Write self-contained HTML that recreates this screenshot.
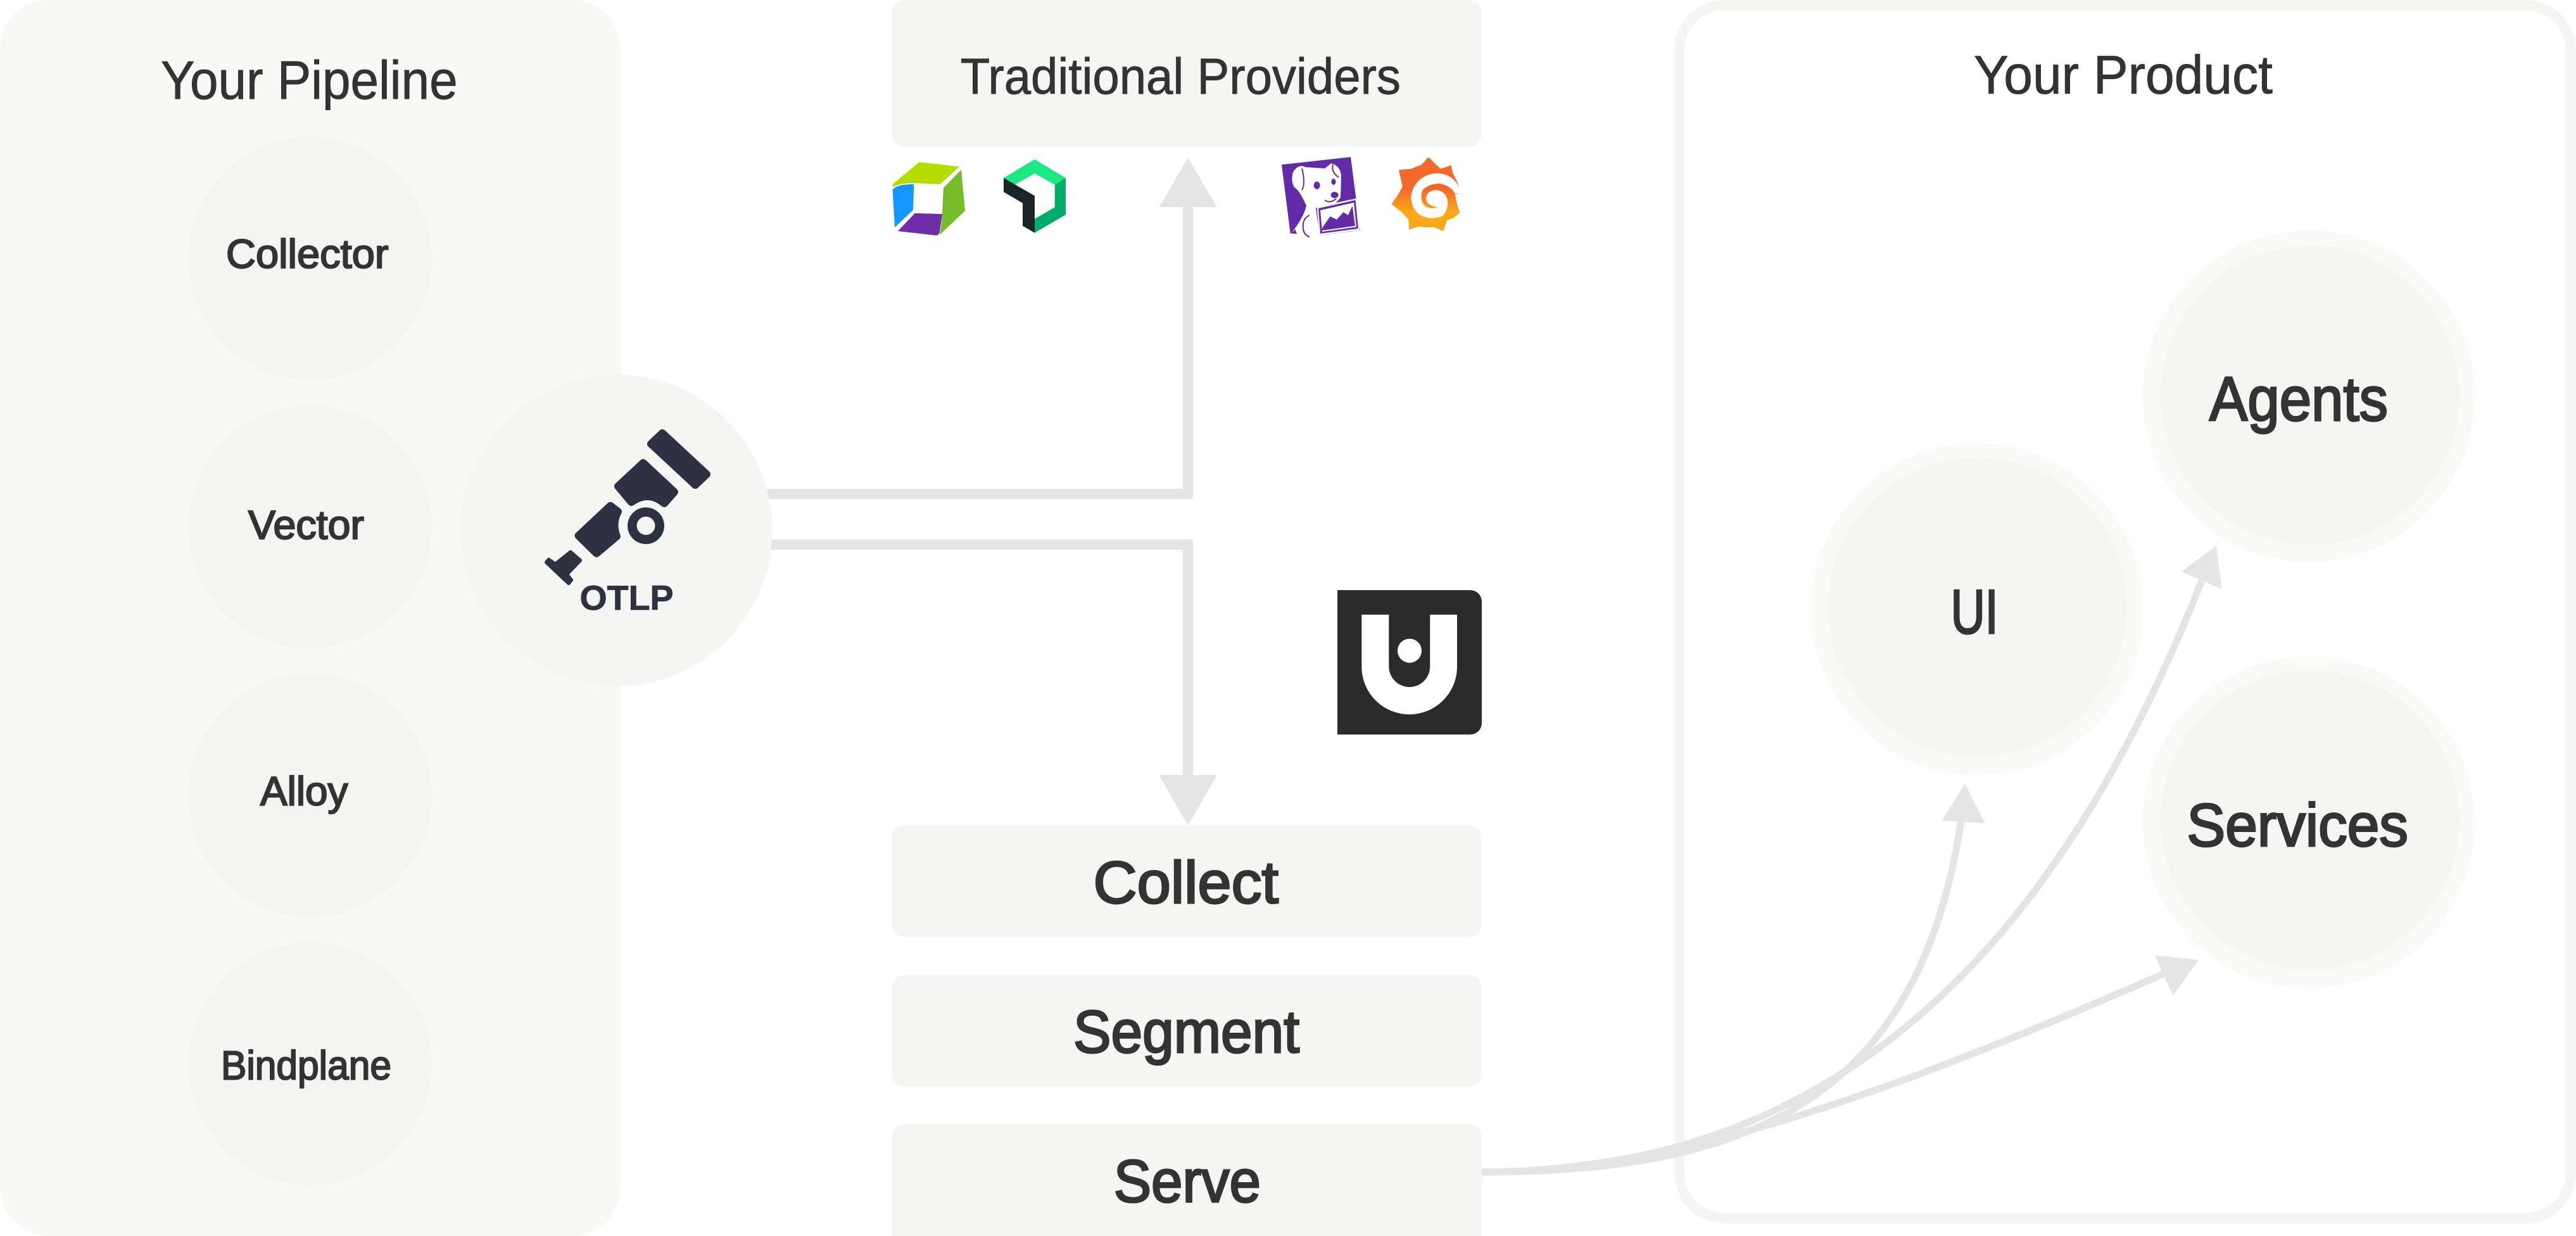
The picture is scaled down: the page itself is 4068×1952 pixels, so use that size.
<!DOCTYPE html>
<html><head><meta charset="utf-8"><title>Pipeline diagram</title>
<style>
html,body{margin:0;padding:0;background:#fff}
svg{display:block}
text{font-family:"Liberation Sans",sans-serif;fill:#333}
.h{stroke:#333;stroke-width:.9px}
.m{stroke:#333;stroke-width:2.2px}
.n{stroke:#333;stroke-width:3px}
</style></head><body>
<svg xmlns="http://www.w3.org/2000/svg" width="4068" height="1952" viewBox="0 0 4068 1952">
<defs>
<linearGradient id="gf" x1="0" y1="0" x2="0" y2="1">
<stop offset="0" stop-color="#f4692a"/><stop offset=".42" stop-color="#f4692a"/><stop offset=".74" stop-color="#f9a818"/><stop offset="1" stop-color="#f9a818"/>
</linearGradient>
</defs>
<rect width="4068" height="1952" fill="#fff"/>

<!-- Left panel -->
<rect x="0" y="0" width="980" height="1952" rx="78" fill="#f8f8f6"/>
<text class="h" x="254" y="156" font-size="85" textLength="468.6" lengthAdjust="spacingAndGlyphs">Your Pipeline</text>
<g fill="#f4f4f2">
<circle cx="489.5" cy="408" r="192"/>
<circle cx="489.5" cy="832" r="192"/>
<circle cx="489.5" cy="1256" r="192"/>
<circle cx="489.5" cy="1680" r="192"/>
</g>
<text class="m" x="357" y="423" font-size="64" textLength="256.5" lengthAdjust="spacingAndGlyphs">Collector</text>
<text class="m" x="392" y="851" font-size="64" textLength="183" lengthAdjust="spacingAndGlyphs">Vector</text>
<text class="m" x="411" y="1271.4" font-size="64" textLength="138.5" lengthAdjust="spacingAndGlyphs">Alloy</text>
<text class="m" x="349" y="1704.3" font-size="64" textLength="269" lengthAdjust="spacingAndGlyphs">Bindplane</text>

<!-- Straight connectors -->
<g fill="none" stroke="#e4e4e4" stroke-width="16">
<path d="M1150 780H1876V320"/>
<path d="M1150 860H1876V1230"/>
</g>
<g fill="#e5e5e5">
<polygon points="1876,248.7 1830.5,327 1921.7,327"/>
<polygon points="1876,1303.5 1830,1224 1922,1224"/>
</g>

<!-- OTLP -->
<circle cx="973.5" cy="837.5" r="246" fill="#f5f5f3"/>
<g fill="#2e3142" stroke="#2e3142" stroke-width="12" stroke-linejoin="round">
<polygon points="1046,684 1116,749 1098,766 1028,701"/>
<path d="M1015.7 731L1065 777L1049 795Q1024 774 997 793L976 768Z"/>
<path d="M964 798.7L976 808Q966 827 974 847L942 874L913.5 846Z"/>
</g>
<path d="M901 872L916 885L895 907L902 916L898 921L863 888L866.5 884L877 891Z" fill="#2e3142" stroke="#2e3142" stroke-width="6" stroke-linejoin="round"/>
<circle cx="1020" cy="830.3" r="21.7" fill="none" stroke="#2e3142" stroke-width="14.5"/>
<text x="915.5" y="963" font-size="55" font-weight="700" textLength="148" lengthAdjust="spacingAndGlyphs" style="fill:#2e3142;stroke:#2e3142;stroke-width:.8px">OTLP</text>

<!-- Middle column -->
<rect x="1408" y="0" width="932" height="232" rx="22" fill="#f5f5f3"/>
<text class="h" x="1516.7" y="148" font-size="80" textLength="695.3" lengthAdjust="spacingAndGlyphs">Traditional Providers</text>
<rect x="1408" y="1303.5" width="932" height="176" rx="20" fill="#f5f5f3"/>
<rect x="1408" y="1540" width="932" height="176" rx="20" fill="#f5f5f3"/>
<rect x="1408" y="1775.5" width="932" height="190" rx="20" fill="#f5f5f3"/>
<text class="n" x="1726.5" y="1426" font-size="94" textLength="292.5" lengthAdjust="spacingAndGlyphs">Collect</text>
<text class="n" x="1695" y="1662" font-size="95" textLength="357" lengthAdjust="spacingAndGlyphs">Segment</text>
<text class="n" x="1758.7" y="1898" font-size="95" textLength="232.3" lengthAdjust="spacingAndGlyphs">Serve</text>

<!-- Dynatrace -->
<path d="M1451.7 256L1514.9 263.3L1484.7 291L1441 289Q1420 289 1409.6 296L1409.6 291Z" fill="#b4dc00"/>
<path d="M1409.6 300Q1414 291 1443.3 290.7L1441.9 331.7L1413 359.3Z" fill="#1496ff"/>
<path d="M1518 268L1524 333L1483 371.7Q1485 370 1488 336.7L1490 296.7Z" fill="#73be28"/>
<path d="M1444.7 336.7L1488 338L1484 366Q1483 371.7 1478 371.7L1418 365Z" fill="#6f2da8"/>

<!-- New Relic -->
<polygon points="1634,251.7 1683,281 1665.7,291.7 1634,274 1602.5,291.7 1585,281" fill="#1ce783"/>
<polygon points="1683,281 1683,339 1634,367.7 1634,345.7 1665.7,327.3 1665.7,291.7" fill="#00ac69"/>
<polygon points="1585,281 1634,309.3 1634,367.7 1615,356.7 1615,320.7 1585,303.3" fill="#1d252c"/>

<!-- Datadog -->
<polygon points="2024,260 2133,248 2148,363.5 2082.4,372 2037.7,368.6" fill="#632ca6"/>
<path d="M2042 272Q2050 258 2062 264L2092 266L2102 258Q2118 262 2118 280L2117 312L2110 320L2090 327L2078 328L2080 345L2084 372L2065 378Q2045 372 2046 362L2040 367Q2058 345 2063 325Q2052 300 2044 296Q2038 285 2042 272Z" fill="#fff"/>
<path d="M2056 266Q2062 290 2056 300" fill="none" stroke="#632ca6" stroke-width="2"/>
<path d="M2105 260Q2102 272 2114 280" fill="none" stroke="#632ca6" stroke-width="2"/>
<ellipse cx="2079.6" cy="292.7" rx="5" ry="6" fill="#632ca6"/>
<ellipse cx="2106" cy="287" rx="3.5" ry="5" fill="#632ca6"/>
<ellipse cx="2107.6" cy="308" rx="6" ry="5" fill="#632ca6"/>
<path d="M2092 316Q2100 322 2110 314" fill="none" stroke="#632ca6" stroke-width="2"/>
<path d="M2068 340Q2056 345 2058 362Q2060 372 2068 374" fill="none" stroke="#632ca6" stroke-width="2"/>
<polygon points="2079.6,326.7 2142.7,313.3 2147.6,363.3 2083,371.7" fill="#fff"/>
<polygon points="2082,329 2140.5,316 2145,361 2085,369" fill="#632ca6"/>
<polygon points="2085,332 2138,320 2142,358.5 2088,366" fill="#fff"/>
<polygon points="2088,360 2100.6,341.7 2111,346.7 2121.6,335 2128.7,340 2135.7,325 2140,356.7 2088,364" fill="#632ca6"/>

<!-- Grafana -->
<g transform="translate(2185 235) scale(.33333)">
<path d="M212 40L232 58L245 72L270 95L320 78L328 115L350 160L365 212L338 215L350 270L362 303L335 325L300 340L283 390L240 372L195 372L165 368L120 383L118 335L85 300L38 262L70 215L90 180L72 100L130 95L180 75Z" fill="url(#gf)"/>
<path d="M365 212Q355 150 300 125Q250 105 195 130Q140 160 130 225Q130 285 175 315Q225 340 275 320Q300 305 305 255Q300 200 245 195Q205 200 200 235Q205 270 258 278Q215 290 190 265Q170 235 185 195Q215 165 265 165Q320 175 338 212Z" fill="#fff"/>
</g>

<!-- U logo -->
<path d="M2112 932H2322a18 18 0 0 1 18 18V1142a18 18 0 0 1 -18 18H2112Z" fill="#2b2b2b"/>
<path d="M2150.3 970.7H2193.3V1052.5A32.5 32.5 0 0 0 2258.3 1052.5V970.7H2301V1055.5A75.4 75.5 0 0 1 2150.3 1055.5Z" fill="#fff"/>
<circle cx="2226" cy="1027.7" r="19" fill="#fff"/>

<!-- Product panel -->
<rect x="2652" y="8" width="1408" height="1916" rx="72" fill="#fff" stroke="#f5f5f3" stroke-width="16"/>
<text class="h" x="3117" y="147.7" font-size="85" textLength="472" lengthAdjust="spacingAndGlyphs">Your Product</text>

<circle cx="3122" cy="962" r="262" fill="#f9f9f8"/><circle cx="3123" cy="959" r="236" fill="#f5f5f3"/>
<circle cx="3646" cy="625.6" r="262" fill="#f9f9f8"/><circle cx="3648" cy="624" r="236" fill="#f5f5f3"/>
<circle cx="3646" cy="1298.6" r="262" fill="#f9f9f8"/><circle cx="3648" cy="1295" r="236" fill="#f5f5f3"/>
<text class="n" x="3080.6" y="1000" font-size="98" textLength="75" lengthAdjust="spacingAndGlyphs">UI</text>
<text class="n" x="3489" y="664" font-size="98" textLength="282" lengthAdjust="spacingAndGlyphs">Agents</text>
<text class="n" x="3453.4" y="1336" font-size="96" textLength="349.6" lengthAdjust="spacingAndGlyphs">Services</text>

<!-- Curves -->
<g fill="none" stroke="#e4e4e4" stroke-width="11">
<path d="M2340 1851C2760 1851 3030 1740 3097 1296"/>
<path d="M2340 1851C2800 1851 3200 1620 3477 917"/>
<path d="M2340 1851C2650 1851 3000 1720 3419 1537"/>
</g>
<g fill="#e5e5e5">
<polygon points="3103,1238 3066,1296 3134.8,1300"/>
<polygon points="3500,861.7 3444.4,903 3508.6,930"/>
<polygon points="3472,1516 3403,1508.7 3431.6,1572.5"/>
</g>
</svg>
</body></html>
